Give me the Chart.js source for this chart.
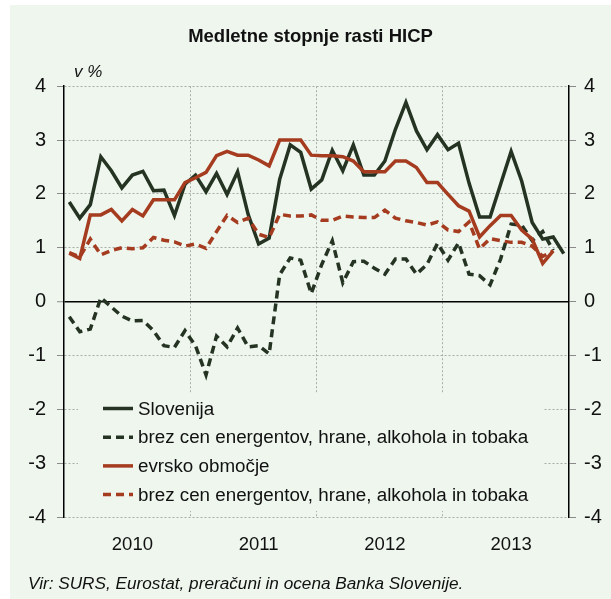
<!DOCTYPE html>
<html>
<head>
<meta charset="utf-8">
<script src="https://cdn.jsdelivr.net/npm/chart.js@4.4.1/dist/chart.umd.min.js"></script>
<style>
  html, body { margin: 0; padding: 0; background: #ffffff; }
  #panel { position: absolute; left: 10px; top: 5px; width: 601px; height: 594px; background: #eef6ee; }
  #wrap { position: absolute; left: 0; top: 0; width: 611px; height: 599px; }
  #unit { position: absolute; left: 74px; top: 62px; font: italic 17px 'Liberation Sans', Arial, sans-serif; color: #111; }
  #src { position: absolute; left: 28px; top: 573px; font: italic 17.2px 'Liberation Sans', Arial, sans-serif; color: #111; }
</style>
</head>
<body>
<div id="panel"></div>
<div id="wrap"><canvas id="c" width="611" height="599"></canvas></div>
<div id="unit">v %</div>
<div id="src">Vir: SURS, Eurostat, preračuni in ocena Banka Slovenije.</div>
<script>
// ---- data ----
const months = [
  'jan 2010','feb 2010','mar 2010','apr 2010','maj 2010','jun 2010','jul 2010','avg 2010','sep 2010','okt 2010','nov 2010','dec 2010',
  'jan 2011','feb 2011','mar 2011','apr 2011','maj 2011','jun 2011','jul 2011','avg 2011','sep 2011','okt 2011','nov 2011','dec 2011',
  'jan 2012','feb 2012','mar 2012','apr 2012','maj 2012','jun 2012','jul 2012','avg 2012','sep 2012','okt 2012','nov 2012','dec 2012',
  'jan 2013','feb 2013','mar 2013','apr 2013','maj 2013','jun 2013','jul 2013','avg 2013','sep 2013','okt 2013','nov 2013','dec 2013'
];
const yearLabels = ['2010', '2011', '2012', '2013'];
const yTicks = [-4, -3, -2, -1, 0, 1, 2, 3, 4];

const seriesNames = [
  'Slovenija',
  'brez cen energentov, hrane, alkohola in tobaka',
  'evrsko območje',
  'brez cen energentov, hrane, alkohola in tobaka'
];

const sloHicp = [
  1.85, 1.55, 1.80, 2.69, 2.43, 2.11, 2.35, 2.42, 2.06, 2.07, 1.60, 2.18,
  2.35, 2.04, 2.38, 1.99, 2.41, 1.62, 1.07, 1.18, 2.27, 2.91, 2.77, 2.09,
  2.26, 2.81, 2.43, 2.91, 2.35, 2.35, 2.61, 3.20, 3.70, 3.17, 2.82, 3.10,
  2.82, 2.94, 2.20, 1.57, 1.57, 2.18, 2.79, 2.24, 1.47, 1.16, 1.20, 0.89
];
const sloCore = [
  -0.28, -0.56, -0.51, 0.07, -0.10, -0.27, -0.36, -0.35, -0.54, -0.82, -0.85, -0.54,
  -0.82, -1.36, -0.64, -0.84, -0.49, -0.84, -0.82, -0.97, 0.50, 0.81, 0.77, 0.15,
  0.69, 1.13, 0.35, 0.74, 0.75, 0.62, 0.51, 0.79, 0.79, 0.51, 0.69, 1.08,
  0.77, 1.09, 0.51, 0.48, 0.31, 0.79, 1.44, 1.42, 1.13, 1.30, 0.95, null
];
const euroHicp = [
  0.90, 0.80, 1.61, 1.61, 1.71, 1.50, 1.71, 1.59, 1.89, 1.89, 1.89, 2.21,
  2.30, 2.40, 2.71, 2.79, 2.72, 2.72, 2.63, 2.52, 3.00, 3.00, 3.00, 2.72,
  2.71, 2.71, 2.69, 2.61, 2.41, 2.41, 2.41, 2.61, 2.61, 2.49, 2.21, 2.21,
  1.99, 1.78, 1.68, 1.20, 1.41, 1.60, 1.60, 1.33, 1.16, 0.71, 0.94, null
];
const euroCore = [
  0.91, 0.83, 1.16, 0.87, 0.95, 1.00, 0.98, 1.00, 1.19, 1.14, 1.11, 1.03,
  1.07, 0.99, 1.30, 1.60, 1.47, 1.55, 1.25, 1.19, 1.62, 1.59, 1.59, 1.61,
  1.51, 1.51, 1.59, 1.57, 1.56, 1.56, 1.70, 1.55, 1.50, 1.47, 1.42, 1.48,
  1.33, 1.30, 1.48, 0.98, 1.17, 1.13, 1.10, 1.10, 1.03, 0.84, 0.94, null
];

// ---- styles ----
const BG = '#eef6ee';
const DARK = '#243322';
const RED = '#a53b1f';
const GRID = '#a9aca9';
const FONT = "'Liberation Sans', Arial, sans-serif";
Chart.defaults.font.family = FONT;
Chart.defaults.color = '#111';

const legendPlugin = {
  id: 'innerLegend',
  afterDatasetsDraw(chart) {
    const ctx = chart.ctx;
    const a = chart.chartArea;
    const bx = a.left + 14, by = 393, bw = 465, bh = 118;
    ctx.save();
    ctx.fillStyle = BG;
    ctx.fillRect(bx, by, bw, bh);
    ctx.font = '18.8px ' + FONT;
    ctx.textBaseline = 'middle';
    chart.data.datasets.forEach((ds, i) => {
      const y = 408.5 + i * 28.7;
      ctx.strokeStyle = ds.borderColor;
      ctx.lineWidth = 3.5;
      ctx.setLineDash(ds.borderDash || []);
      ctx.beginPath();
      ctx.moveTo(a.left + 39, y);
      ctx.lineTo(a.left + 69, y);
      ctx.stroke();
      ctx.setLineDash([]);
      ctx.fillStyle = '#111';
      ctx.fillText(ds.label, a.left + 74, y + 1);
    });
    ctx.restore();
  }
};

const yTickFont = { family: FONT, size: 20 };
const xTickFont = { family: FONT, size: 18.5 };

new Chart(document.getElementById('c'), {
  type: 'line',
  data: {
    labels: months,
    datasets: [
      { label: seriesNames[0], data: sloHicp, borderColor: DARK, borderWidth: 3.5, order: 3 },
      { label: seriesNames[1], data: sloCore, borderColor: DARK, borderWidth: 3.5, borderDash: [8, 5], order: 4 },
      { label: seriesNames[2], data: euroHicp, borderColor: RED, borderWidth: 3.5, order: 1 },
      { label: seriesNames[3], data: euroCore, borderColor: RED, borderWidth: 3.5, borderDash: [8, 5], order: 2 }
    ]
  },
  options: {
    responsive: false,
    animation: false,
    elements: { point: { radius: 0 }, line: { tension: 0, borderCapStyle: 'butt', borderJoinStyle: 'miter' } },
    layout: { padding: { left: 10, right: 0, top: 0, bottom: 0 } },
    plugins: {
      legend: { display: false },
      tooltip: { enabled: false },
      title: {
        display: true,
        text: 'Medletne stopnje rasti HICP',
        color: '#111',
        font: { family: FONT, size: 18.5, weight: 'bold' },
        padding: { top: 26, bottom: 38 }
      }
    },
    scales: {
      x: {
        type: 'category',
        offset: true,
        grid: {
          offset: true,
          drawTicks: false,
          lineWidth: 1,
          color: (c) => (c.index > 0 && c.index < months.length && c.index % 12 === 0) ? GRID : 'rgba(0,0,0,0)'
        },
        border: { display: false, dash: [2, 2] },
        ticks: {
          autoSkip: false,
          maxRotation: 0,
          minRotation: 0,
          padding: 17,
          font: xTickFont,
          color: '#111',
          callback: (v, i) => (i % 12 === 6 ? yearLabels[Math.floor(i / 12)] : '')
        },
        afterFit: (s) => { s.height = 82; }
      },
      y: {
        position: 'left',
        min: -4, max: 4,
        afterBuildTicks: (s) => { s.ticks = yTicks.map(v => ({ value: v })); },
        ticks: { font: yTickFont, color: '#111', padding: 11 },
        grid: {
          color: (c) => (c.tick && c.tick.value === 0) ? '#000' : GRID,
          lineWidth: (c) => (c.tick && c.tick.value === 0) ? 1.5 : 1,
          tickColor: '#8a8a8a',
          tickLength: 7,
          tickBorderDash: [],
          tickWidth: 1
        },
        border: {
          display: true, color: '#000', width: 1.5,
          dash: (c) => (c.tick && c.tick.value === 0) ? [] : [2, 2]
        },
        afterFit: (s) => { s.width = 54; }
      },
      y2: {
        position: 'right',
        min: -4, max: 4,
        afterBuildTicks: (s) => { s.ticks = yTicks.map(v => ({ value: v })); },
        ticks: { font: yTickFont, color: '#111', padding: 8 },
        grid: { drawOnChartArea: false, tickColor: '#8a8a8a', tickLength: 7, tickWidth: 1 },
        border: { display: true, color: '#000', width: 1.5 },
        afterFit: (s) => { s.width = 42; }
      }
    }
  },
  plugins: [legendPlugin]
});
</script>
</body>
</html>
